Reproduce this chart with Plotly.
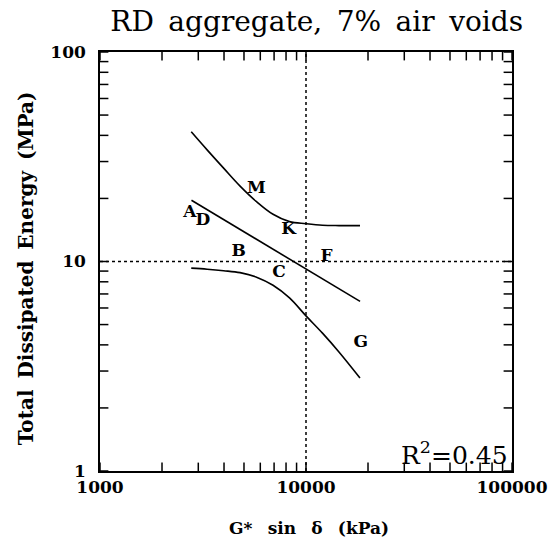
import plotly.graph_objects as go

# Regression line (log-log)
mid_x = [2780, 18300]
mid_y = [19.6, 6.45]

# Upper confidence curve
up_x = [2773, 3311, 3981, 4786, 5754, 6918, 8318, 10000, 12023, 14454, 18281]
up_y = [41.6, 34.1, 27.9, 22.9, 19.3, 16.8, 15.5, 15.15, 14.9, 14.84, 14.83]

# Lower confidence curve
lo_x = [2773, 3311, 3981, 4786, 5754, 6918, 8318, 10000, 12023, 14454, 18281]
lo_y = [9.30, 9.19, 9.04, 8.85, 8.42, 7.70, 6.70, 5.50, 4.55, 3.70, 2.78]

# Point labels
lab_text = ["A", "D", "M", "K", "B", "F", "C", "G"]
lab_x = [2732, 3159, 5752, 8240, 4710, 12570, 7390, 18460]
lab_y = [17.0, 15.7, 22.2, 14.1, 11.1, 10.5, 8.81, 4.08]

x_ticks = [1000, 10000, 100000]
x_tick_text = ["1000", "10000", "100000"]
y_ticks = [1, 10, 100]
y_tick_text = ["1", "10", "100"]
x_minor = [m * d for d in (1000, 10000) for m in range(2, 10)]
y_minor = [m * d for d in (1, 10) for m in range(2, 10)]

x_ref = x_ticks[1]
y_ref = y_ticks[1]

SERIF = "DejaVu Serif"
fig = go.Figure()
for xs, ys in [(up_x, up_y), (mid_x, mid_y), (lo_x, lo_y)]:
    fig.add_trace(go.Scatter(x=xs, y=ys, mode="lines",
                             line=dict(color="black", width=1.6, shape="spline", smoothing=1.0),
                             hoverinfo="skip"))
fig.add_trace(go.Scatter(x=lab_x, y=lab_y, mode="text", text=lab_text,
                         textfont=dict(family=SERIF, size=17, color="black", weight="bold"),
                         hoverinfo="skip"))

# Inward tick marks on all four sides: line markers centred on the frame,
# clipped to the plot area so only the inner half shows.
xv = x_ticks + x_minor
yv = y_ticks + y_minor
fig.add_trace(go.Scatter(
    x=xv + xv, y=[y_ticks[0]] * len(xv) + [y_ticks[-1]] * len(xv),
    mode="markers", cliponaxis=True, hoverinfo="skip",
    marker=dict(symbol="line-ns", size=12, color="black",
                line=dict(width=1.5, color="black"))))
fig.add_trace(go.Scatter(
    x=[x_ticks[0]] * len(yv) + [x_ticks[-1]] * len(yv), y=yv + yv,
    mode="markers", cliponaxis=True, hoverinfo="skip",
    marker=dict(symbol="line-ew", size=12, color="black",
                line=dict(width=1.5, color="black"))))

tickfont = dict(family=SERIF, size=17, color="black", weight="bold")
axis_style = dict(showline=True, linecolor="black", linewidth=1.5, mirror=True,
                  showgrid=False, zeroline=False, tickmode="array", ticks="",
                  tickfont=tickfont)
fig.update_xaxes(type="log", range=[3, 5], tickvals=x_ticks, ticktext=x_tick_text,
                 **axis_style)
fig.update_yaxes(type="log", range=[0, 2], tickvals=y_ticks, ticktext=y_tick_text,
                 ticklabelstandoff=9, **axis_style)

fig.add_shape(type="line", xref="x", yref="paper", x0=x_ref, x1=x_ref, y0=0, y1=1,
              line=dict(color="black", width=1.5, dash="dot"), layer="below")
fig.add_shape(type="line", xref="paper", yref="y", x0=0, x1=1, y0=y_ref, y1=y_ref,
              line=dict(color="black", width=1.5, dash="dot"), layer="below")

fig.update_layout(
    width=560, height=557, showlegend=False,
    margin=dict(l=100, r=38, t=52, b=86),
    plot_bgcolor="white", paper_bgcolor="white",
    title=dict(text="RD\u00a0\u2009aggregate,\u00a0\u20097%\u00a0\u2009air\u00a0\u2009voids",
               font=dict(family=SERIF, size=28, color="black"),
               xref="paper", x=0.526, xanchor="center",
               yref="container", y=1 - 21 / 557, yanchor="middle"),
    annotations=[
        dict(text="R<sup>2</sup>=0.45", xref="paper", yref="paper",
             x=0.995, y=0.0406, xanchor="right", yanchor="middle", showarrow=False,
             font=dict(family=SERIF, size=25, color="black")),
        dict(text="G*\u00a0\u00a0\u2009sin\u00a0\u00a0\u2009\u03b4\u00a0\u00a0\u2009(kPa)",
             xref="paper", yref="paper",
             x=0.508, y=-0.136, xanchor="center", yanchor="middle", showarrow=False,
             font=dict(family=SERIF, size=17, color="black", weight="bold")),
        dict(text="Total\u00a0\u2009Dissipated\u00a0\u2009Energy\u00a0\u2009(MPa)",
             xref="paper", yref="paper",
             x=-0.181, y=0.485, xanchor="center", yanchor="middle", showarrow=False,
             textangle=-90,
             font=dict(family=SERIF, size=20, color="black", weight="bold")),
    ],
)
fig.write_html("out.html")
